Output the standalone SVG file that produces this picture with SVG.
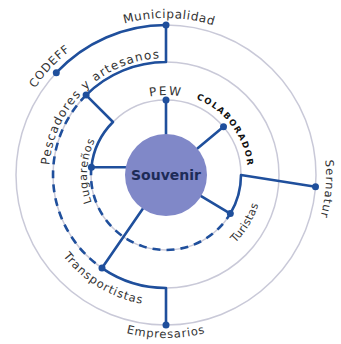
<svg xmlns="http://www.w3.org/2000/svg" width="341" height="344" viewBox="0 0 341 344">
<style>
.ring{fill:none;stroke:#c9c9d8;stroke-width:1.5}
.ln{fill:none;stroke:#1f4f9c;stroke-width:2.6;stroke-linecap:round;stroke-linejoin:round}
.dash{fill:none;stroke:#1f4f9c;stroke-width:2.6;stroke-dasharray:8 6}
.dot{fill:#1f4f9c}
.lbl{font-family:"DejaVu Sans","Liberation Sans",sans-serif;font-size:11.5px;fill:#333}
</style>
<defs>
<path id="pMun" d="M55,64 A157,157 0 0 1 277,64"/>
<path id="pCod" d="M13.02,139.68 A157,157 0 0 1 120.1,24.86"/>
<path id="pPes" d="M50.44,193.3 A117,117 0 0 1 188.33,60.15"/>
<path id="pLug" d="M95.61,210.87 A79,79 0 0 1 99.74,131.97"/>
<path id="pPew" d="M126,105.72 A80,80 0 0 1 206,105.72"/>
<path id="pCol" d="M191.34,97.01 A82,82 0 0 1 247.95,172.14"/>
<path id="pTur" d="M213.03,259.84 A97,97 0 0 0 262.99,176.69"/>
<path id="pTra" d="M51.42,238.51 A131,131 0 0 0 163.71,305.98"/>
<path id="pEmp" d="M84.5,316.16 A163,163 0 0 0 247.5,316.16"/>
<path id="pSer" d="M311.01,107.38 A160,160 0 0 1 297.06,266.77"/>
</defs>
<g id="rings">
<circle class="ring" cx="166" cy="175" r="150"/>
<circle class="ring" cx="166" cy="175" r="113"/>
<circle class="ring" cx="166" cy="175" r="75"/>
</g>
<g id="connectors">
<path class="ln" d="M166,25 A150,150 0 0 0 56.3,72.7"/>
<path class="ln" d="M166,25 V62 A113,113 0 0 0 86.1,95.1 L113,122 A75,75 0 0 0 91.4,167.2 H126"/>
<path class="dash" d="M91.4,167.2 A75,75 0 0 0 230.3,213.6"/>
<path class="ln" d="M230.3,213.6 A75,75 0 0 0 241,175 L315.5,186.8"/>
<path class="ln" d="M166,100 V134"/>
<path class="ln" d="M197.4,148.6 L223.5,126.8"/>
<path class="ln" d="M201.1,196.1 L230.3,213.6"/>
<path class="ln" d="M142.8,208.8 L102,268.1 A113,113 0 0 0 166,288 V325"/>
<path class="dash" d="M86.1,95.1 A113,113 0 0 0 102,268.1"/>
</g>
<g id="souvenir">
<circle cx="166" cy="175" r="41" fill="#8088c8"/>
<text x="166" y="180" text-anchor="middle" font-family="DejaVu Sans, sans-serif" font-weight="bold" font-size="14" fill="#1d2b57">Souvenir</text>
</g>
<g id="municipalidad"><circle class="dot" cx="166" cy="25" r="3.5"/><text class="lbl" style="font-size:12px;letter-spacing:0.6px"><textPath href="#pMun" startOffset="51.3%" text-anchor="middle">Municipalidad</textPath></text></g>
<g id="codeff"><circle class="dot" cx="56.3" cy="72.7" r="3.5"/><text class="lbl" style="letter-spacing:1px"><textPath href="#pCod" startOffset="50%" text-anchor="middle">CODEFF</textPath></text></g>
<g id="pescadores"><circle class="dot" cx="86.1" cy="95.1" r="3.5"/><text class="lbl" style="font-size:12px;letter-spacing:1.2px"><textPath href="#pPes" startOffset="50%" text-anchor="middle">Pescadores y artesanos</textPath></text></g>
<g id="lugarenos"><circle class="dot" cx="91.4" cy="167.2" r="3.5"/><text class="lbl" style="font-size:11px;letter-spacing:0.8px"><textPath href="#pLug" startOffset="50%" text-anchor="middle">Lugareños</textPath></text></g>
<g id="pew"><circle class="dot" cx="166" cy="100" r="3.5"/><text class="lbl" style="font-size:12px;letter-spacing:2px"><textPath href="#pPew" startOffset="50%" text-anchor="middle">PEW</textPath></text></g>
<g id="colaborador"><circle class="dot" cx="223.5" cy="126.8" r="3.5"/><text class="lbl" style="font-size:8.5px;font-weight:bold;fill:#111;letter-spacing:1.5px"><textPath href="#pCol" startOffset="50%" text-anchor="middle">COLABORADOR</textPath></text></g>
<g id="turistas"><circle class="dot" cx="230.3" cy="213.6" r="3.5"/><text class="lbl" style="font-size:11px;letter-spacing:0.4px"><textPath href="#pTur" startOffset="50%" text-anchor="middle">Turistas</textPath></text></g>
<g id="sernatur"><circle class="dot" cx="315.5" cy="186.8" r="3.5"/><text class="lbl" style="letter-spacing:1px"><textPath href="#pSer" startOffset="50%" text-anchor="middle">Sernatur</textPath></text></g>
<g id="transportistas"><circle class="dot" cx="102" cy="268.1" r="3.5"/><text class="lbl" style="letter-spacing:1px"><textPath href="#pTra" startOffset="50%" text-anchor="middle">Transportistas</textPath></text></g>
<g id="empresarios"><circle class="dot" cx="166" cy="325" r="3.5"/><text class="lbl" style="letter-spacing:0.8px"><textPath href="#pEmp" startOffset="50%" text-anchor="middle">Empresarios</textPath></text></g>
</svg>
